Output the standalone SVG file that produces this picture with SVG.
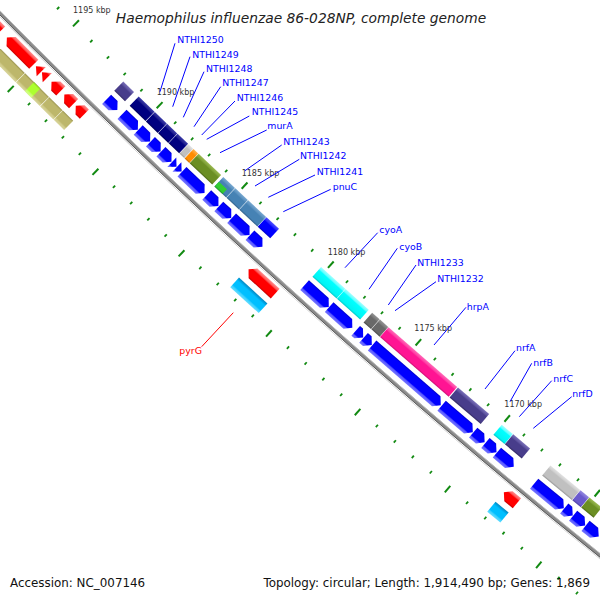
<svg xmlns="http://www.w3.org/2000/svg" xmlns:xlink="http://www.w3.org/1999/xlink" width="600" height="600" viewBox="0 0 600 600">
<style>
text{font-family:"DejaVu Sans","Liberation Sans",sans-serif}
.lab{font-size:9.4px;fill:#0000ff}
.labr{font-size:9.4px;fill:#ff0000}
.kbp{font-size:8px;fill:#333}
.title{font-size:13.8px;font-style:italic;fill:#222}
.foot{font-size:11.9px;fill:#111}
.cl{stroke:#0000ff;stroke-width:1;fill:none}
.clr{stroke:#ff0000;stroke-width:1;fill:none}
.tk{fill:#128a12}
.bl{fill:url(#gCb)}.rd{fill:url(#gAr)}
.nv{fill:url(#dNv)}.dsb{fill:url(#dDsb)}.sv{fill:url(#dSv)}.or{fill:url(#dOr)}.ol{fill:url(#dOl)}
.lg{fill:url(#dLg)}.sb{fill:url(#dSb)}.bx{fill:url(#dBl)}.cy{fill:url(#dCy)}.dg{fill:url(#dDg)}.dp{fill:url(#dDp)}
.slb{fill:url(#dSlb)}.tn{fill:url(#bTn)}.gy{fill:url(#bGy)}.dsk{fill:url(#bDsk)}
</style>
<defs>
<rect id="to" x="-0.9" y="7131" width="1.8" height="3.2"/>
<rect id="toM" x="-1" y="7126.5" width="2" height="8.5"/>
<rect id="ti" x="-0.9" y="7219.5" width="1.8" height="3.2"/>
<rect id="tiM" x="-1" y="7219" width="2" height="8.5"/>
<linearGradient id="gCb" gradientUnits="userSpaceOnUse" x1="0" y1="7157" x2="0" y2="7170"><stop offset="0" stop-color="#0000c8"/><stop offset=".12" stop-color="#0000ff"/><stop offset=".72" stop-color="#0000ff"/><stop offset=".82" stop-color="#5a5aff"/><stop offset="1" stop-color="#7474ff"/></linearGradient>
<linearGradient id="gAr" gradientUnits="userSpaceOnUse" x1="0" y1="7183" x2="0" y2="7196"><stop offset="0" stop-color="#ff8c8c"/><stop offset=".18" stop-color="#ff5c5c"/><stop offset=".3" stop-color="#ff0000"/><stop offset=".86" stop-color="#ff0000"/><stop offset="1" stop-color="#c40000"/></linearGradient>
<linearGradient id="dNv" gradientUnits="userSpaceOnUse" x1="0" y1="7139" x2="0" y2="7152"><stop offset="0" stop-color="#3a3aa8"/><stop offset=".2" stop-color="#20208f"/><stop offset=".3" stop-color="#000080"/><stop offset=".86" stop-color="#000080"/><stop offset="1" stop-color="#000058"/></linearGradient>
<linearGradient id="dDsb" gradientUnits="userSpaceOnUse" x1="0" y1="7139" x2="0" y2="7152"><stop offset="0" stop-color="#7a70b8"/><stop offset=".2" stop-color="#5e54a0"/><stop offset=".3" stop-color="#483d8b"/><stop offset=".86" stop-color="#483d8b"/><stop offset="1" stop-color="#322a62"/></linearGradient>
<linearGradient id="dSv" gradientUnits="userSpaceOnUse" x1="0" y1="7139" x2="0" y2="7152"><stop offset="0" stop-color="#e2e2e2"/><stop offset=".2" stop-color="#d0d0d0"/><stop offset=".3" stop-color="#c0c0c0"/><stop offset=".86" stop-color="#c0c0c0"/><stop offset="1" stop-color="#969696"/></linearGradient>
<linearGradient id="dOr" gradientUnits="userSpaceOnUse" x1="0" y1="7139" x2="0" y2="7152"><stop offset="0" stop-color="#ffb450"/><stop offset=".2" stop-color="#ff9c20"/><stop offset=".3" stop-color="#ff8c00"/><stop offset=".86" stop-color="#ff8c00"/><stop offset="1" stop-color="#cc7000"/></linearGradient>
<linearGradient id="dOl" gradientUnits="userSpaceOnUse" x1="0" y1="7139" x2="0" y2="7152"><stop offset="0" stop-color="#9ab850"/><stop offset=".2" stop-color="#80a238"/><stop offset=".3" stop-color="#6b8e23"/><stop offset=".86" stop-color="#6b8e23"/><stop offset="1" stop-color="#4c6618"/></linearGradient>
<linearGradient id="dLg" gradientUnits="userSpaceOnUse" x1="0" y1="7139" x2="0" y2="7152"><stop offset="0" stop-color="#70e870"/><stop offset=".2" stop-color="#50d850"/><stop offset=".3" stop-color="#32cd32"/><stop offset=".86" stop-color="#32cd32"/><stop offset="1" stop-color="#22a022"/></linearGradient>
<linearGradient id="dSb" gradientUnits="userSpaceOnUse" x1="0" y1="7139" x2="0" y2="7152"><stop offset="0" stop-color="#78a8d0"/><stop offset=".2" stop-color="#5c92c0"/><stop offset=".3" stop-color="#4682b4"/><stop offset=".86" stop-color="#4682b4"/><stop offset="1" stop-color="#30608a"/></linearGradient>
<linearGradient id="dBl" gradientUnits="userSpaceOnUse" x1="0" y1="7139" x2="0" y2="7152"><stop offset="0" stop-color="#5050ff"/><stop offset=".2" stop-color="#2828ff"/><stop offset=".3" stop-color="#0000ff"/><stop offset=".86" stop-color="#0000ff"/><stop offset="1" stop-color="#0000c0"/></linearGradient>
<linearGradient id="dCy" gradientUnits="userSpaceOnUse" x1="0" y1="7139" x2="0" y2="7152"><stop offset="0" stop-color="#a0ffff"/><stop offset=".2" stop-color="#60ffff"/><stop offset=".3" stop-color="#00ffff"/><stop offset=".86" stop-color="#00f4f4"/><stop offset="1" stop-color="#00c8c8"/></linearGradient>
<linearGradient id="dDg" gradientUnits="userSpaceOnUse" x1="0" y1="7139" x2="0" y2="7152"><stop offset="0" stop-color="#939393"/><stop offset=".2" stop-color="#7c7c7c"/><stop offset=".3" stop-color="#696969"/><stop offset=".86" stop-color="#696969"/><stop offset="1" stop-color="#4a4a4a"/></linearGradient>
<linearGradient id="dDp" gradientUnits="userSpaceOnUse" x1="0" y1="7139" x2="0" y2="7152"><stop offset="0" stop-color="#ff6ab8"/><stop offset=".2" stop-color="#ff40a4"/><stop offset=".3" stop-color="#ff1493"/><stop offset=".86" stop-color="#ff1493"/><stop offset="1" stop-color="#c80f72"/></linearGradient>
<linearGradient id="dSlb" gradientUnits="userSpaceOnUse" x1="0" y1="7139" x2="0" y2="7152"><stop offset="0" stop-color="#958ae0"/><stop offset=".2" stop-color="#7e70d6"/><stop offset=".3" stop-color="#6a5acd"/><stop offset=".86" stop-color="#6a5acd"/><stop offset="1" stop-color="#4c40a0"/></linearGradient>
<linearGradient id="bTn" gradientUnits="userSpaceOnUse" x1="0" y1="7202" x2="0" y2="7215"><stop offset="0" stop-color="#99934f"/><stop offset=".14" stop-color="#bdb76b"/><stop offset=".72" stop-color="#bdb76b"/><stop offset=".84" stop-color="#d0cb8a"/><stop offset="1" stop-color="#d8d49a"/></linearGradient>
<linearGradient id="bGy" gradientUnits="userSpaceOnUse" x1="0" y1="7202" x2="0" y2="7215"><stop offset="0" stop-color="#88cc20"/><stop offset=".14" stop-color="#adff2f"/><stop offset=".72" stop-color="#adff2f"/><stop offset=".84" stop-color="#c8ff70"/><stop offset="1" stop-color="#d4ff88"/></linearGradient>
<linearGradient id="bDsk" gradientUnits="userSpaceOnUse" x1="0" y1="7202" x2="0" y2="7215"><stop offset="0" stop-color="#0088c0"/><stop offset=".16" stop-color="#00a8e8"/><stop offset=".26" stop-color="#00bfff"/><stop offset=".72" stop-color="#00bfff"/><stop offset=".84" stop-color="#40d2ff"/><stop offset="1" stop-color="#60dcff"/></linearGradient>
</defs>
<rect width="600" height="600" fill="#fff"/>
<text class="title" x="301" y="22.5" text-anchor="middle">Haemophilus influenzae 86-028NP, complete genome</text>

<g id="backbone" transform="translate(5105 -5032)" fill="none">
<circle r="7180.2" stroke="#d4d4d4" stroke-width="1"/>
<circle r="7177.3" stroke="#8a8a8a" stroke-width="3.4"/>
<circle r="7175.9" stroke="#bdbdbd" stroke-width="0.9"/>
<circle r="7178.8" stroke="#5c5c5c" stroke-width="1"/>
</g>

<g id="ruler-outer" class="tk" transform="translate(5105 -5032)">
<use xlink:href="#to" transform="rotate(45.0385)"/>
<use xlink:href="#toM" transform="rotate(44.8505)"/>
<use xlink:href="#to" transform="rotate(44.6625)"/>
<use xlink:href="#to" transform="rotate(44.4744)"/>
<use xlink:href="#to" transform="rotate(44.2864)"/>
<use xlink:href="#to" transform="rotate(44.0983)"/>
<use xlink:href="#toM" transform="rotate(43.9103)"/>
<use xlink:href="#to" transform="rotate(43.7223)"/>
<use xlink:href="#to" transform="rotate(43.5342)"/>
<use xlink:href="#to" transform="rotate(43.3462)"/>
<use xlink:href="#to" transform="rotate(43.1581)"/>
<use xlink:href="#toM" transform="rotate(42.9701)"/>
<use xlink:href="#to" transform="rotate(42.7821)"/>
<use xlink:href="#to" transform="rotate(42.5940)"/>
<use xlink:href="#to" transform="rotate(42.4060)"/>
<use xlink:href="#to" transform="rotate(42.2179)"/>
<use xlink:href="#toM" transform="rotate(42.0299)"/>
<use xlink:href="#to" transform="rotate(41.8419)"/>
<use xlink:href="#to" transform="rotate(41.6538)"/>
<use xlink:href="#to" transform="rotate(41.4658)"/>
<use xlink:href="#to" transform="rotate(41.2777)"/>
<use xlink:href="#toM" transform="rotate(41.0897)"/>
<use xlink:href="#to" transform="rotate(40.9017)"/>
<use xlink:href="#to" transform="rotate(40.7136)"/>
<use xlink:href="#to" transform="rotate(40.5256)"/>
<use xlink:href="#to" transform="rotate(40.3375)"/>
<use xlink:href="#toM" transform="rotate(40.1495)"/>
<use xlink:href="#to" transform="rotate(39.9615)"/>
<use xlink:href="#to" transform="rotate(39.7734)"/>
<use xlink:href="#to" transform="rotate(39.5854)"/>
<use xlink:href="#to" transform="rotate(39.3973)"/>
<use xlink:href="#toM" transform="rotate(39.2093)"/>
</g>
<g id="ruler-inner" class="tk" transform="translate(5105 -5032)">
<use xlink:href="#tiM" transform="rotate(44.8505)"/>
<use xlink:href="#ti" transform="rotate(44.6625)"/>
<use xlink:href="#ti" transform="rotate(44.4744)"/>
<use xlink:href="#ti" transform="rotate(44.2864)"/>
<use xlink:href="#ti" transform="rotate(44.0983)"/>
<use xlink:href="#tiM" transform="rotate(43.9103)"/>
<use xlink:href="#ti" transform="rotate(43.7223)"/>
<use xlink:href="#ti" transform="rotate(43.5342)"/>
<use xlink:href="#ti" transform="rotate(43.3462)"/>
<use xlink:href="#ti" transform="rotate(43.1581)"/>
<use xlink:href="#tiM" transform="rotate(42.9701)"/>
<use xlink:href="#ti" transform="rotate(42.7821)"/>
<use xlink:href="#ti" transform="rotate(42.5940)"/>
<use xlink:href="#ti" transform="rotate(42.4060)"/>
<use xlink:href="#ti" transform="rotate(42.2179)"/>
<use xlink:href="#tiM" transform="rotate(42.0299)"/>
<use xlink:href="#ti" transform="rotate(41.8419)"/>
<use xlink:href="#ti" transform="rotate(41.6538)"/>
<use xlink:href="#ti" transform="rotate(41.4658)"/>
<use xlink:href="#ti" transform="rotate(41.2777)"/>
<use xlink:href="#tiM" transform="rotate(41.0897)"/>
<use xlink:href="#ti" transform="rotate(40.9017)"/>
<use xlink:href="#ti" transform="rotate(40.7136)"/>
<use xlink:href="#ti" transform="rotate(40.5256)"/>
<use xlink:href="#ti" transform="rotate(40.3375)"/>
<use xlink:href="#tiM" transform="rotate(40.1495)"/>
<use xlink:href="#ti" transform="rotate(39.9615)"/>
<use xlink:href="#ti" transform="rotate(39.7734)"/>
<use xlink:href="#ti" transform="rotate(39.5854)"/>
<use xlink:href="#ti" transform="rotate(39.3973)"/>
<use xlink:href="#tiM" transform="rotate(39.2093)"/>
<use xlink:href="#ti" transform="rotate(39.0213)"/>
<use xlink:href="#ti" transform="rotate(38.8332)"/>
</g>
<g id="ruler-labels" class="kbp">
<text x="73" y="13.3">1195 kbp</text>
<text x="156.7" y="95">1190 kbp</text>
<text x="241.7" y="175.5">1185 kbp</text>
<text x="327.7" y="255">1180 kbp</text>
<text x="414.3" y="330.5">1175 kbp</text>
<text x="504.3" y="406.5">1170 kbp</text>
</g>

<g id="features" transform="translate(5105 -5032)">
<!-- reverse strand: blue arrows (track C) + COG boxes (track D) -->
<g id="g01"><path class="bl" transform="rotate(44.1877)" d="M-7.5 7157H1.5L7.5 7163.5L1.5 7170H-7.5Z"/><path class="dsb" transform="rotate(44.1919)" d="M-7.5 7139H7.5V7152H-7.5Z"/></g>
<g id="NTHI1250"><path class="bl" transform="rotate(43.9877)" d="M-11 7157H5L11 7163.5L5 7170H-11Z"/><path class="nv" transform="rotate(43.9914)" d="M-11 7139H11V7152H-11Z"/></g>
<g id="NTHI1249"><path class="bl" transform="rotate(43.8297)" d="M-8.25 7157H2.25L8.25 7163.5L2.25 7170H-8.25Z"/><path class="nv" transform="rotate(43.8331)" d="M-8.25 7139H8.25V7152H-8.25Z"/></g>
<g id="NTHI1248"><path class="bl" transform="rotate(43.7038)" d="M-7 7157H1L7 7163.5L1 7170H-7Z"/><path class="nv" transform="rotate(43.7068)" d="M-7 7139H7V7152H-7Z"/></g>
<g id="NTHI1247"><path class="bl" transform="rotate(43.5858)" d="M-7.25 7157H1.25L7.25 7163.5L1.25 7170H-7.25Z"/><path class="nv" transform="rotate(43.5885)" d="M-7.25 7139H7.25V7152H-7.25Z"/></g>
<g id="NTHI1246"><path class="bl" transform="rotate(43.4978)" d="M-3.25 7157L3.25 7163.5L-3.25 7170Z"/><path class="sv" transform="rotate(43.5003)" d="M-3.25 7139H3.25V7152H-3.25Z"/></g>
<g id="NTHI1245"><path class="bl" transform="rotate(43.4418)" d="M-3.25 7157L3.25 7163.5L-3.25 7170Z"/><path class="or" transform="rotate(43.4442)" d="M-3.25 7139H3.25V7152H-3.25Z"/></g>
<g id="murA"><path class="bl" transform="rotate(43.2878)" d="M-15.5 7157H9.5L15.5 7163.5L9.5 7170H-15.5Z"/><path class="ol" transform="rotate(43.2898)" d="M-15.5 7139H15.5V7152H-15.5Z"/></g>
<g id="NTHI1243"><path class="bl" transform="rotate(43.0759)" d="M-8 7157H2L8 7163.5L2 7170H-8Z"/><g transform="rotate(43.0773)"><path class="sb" d="M-8 7139H8V7152H-8Z"/><path class="lg" d="M-8 7145.5H3V7152H-8Z"/></g></g>
<g id="NTHI1242"><path class="bl" transform="rotate(42.9399)" d="M-8.5 7157H2.5L8.5 7163.5L2.5 7170H-8.5Z"/><path class="sb" transform="rotate(42.9410)" d="M-8.5 7139H8.5V7152H-8.5Z"/></g>
<g id="NTHI1241"><path class="bl" transform="rotate(42.7699)" d="M-12.25 7157H6.25L12.25 7163.5L6.25 7170H-12.25Z"/><path class="sb" transform="rotate(42.7706)" d="M-12.25 7139H12.25V7152H-12.25Z"/></g>
<g id="pnuC"><path class="bl" transform="rotate(42.6000)" d="M-8.5 7157H2.5L8.5 7163.5L2.5 7170H-8.5Z"/><path class="bx" transform="rotate(42.6002)" d="M-8.5 7139H8.5V7152H-8.5Z"/></g>
<g id="cyoA"><path class="bl" transform="rotate(41.9461)" d="M-16.25 7157H10.25L16.25 7163.5L10.25 7170H-16.25Z"/><path class="cy" transform="rotate(41.9447)" d="M-16.25 7139H16.25V7152H-16.25Z"/></g>
<g id="cyoB"><path class="bl" transform="rotate(41.6882)" d="M-15.5 7157H9.5L15.5 7163.5L9.5 7170H-15.5Z"/><path class="cy" transform="rotate(41.6861)" d="M-15.5 7139H15.5V7152H-15.5Z"/></g>
<g id="NTHI1233"><path class="bl" transform="rotate(41.4882)" d="M-5 7157H-1L5 7163.5L-1 7170H-5Z"/><path class="dg" transform="rotate(41.4857)" d="M-5 7139H5V7152H-5Z"/></g>
<g id="NTHI1232"><path class="bl" transform="rotate(41.4002)" d="M-5.5 7157H-0.5L5.5 7163.5L-0.5 7170H-5.5Z"/><path class="dg" transform="rotate(41.3975)" d="M-5.5 7139H5.5V7152H-5.5Z"/></g>
<g id="hrpA"><path class="bl" transform="rotate(40.9883)" d="M-45.5 7157H39.5L45.5 7163.5L39.5 7170H-45.5Z"/><path class="dp" transform="rotate(40.9845)" d="M-45.5 7139H45.5V7152H-45.5Z"/></g>
<g id="nrfA"><path class="bl" transform="rotate(40.4524)" d="M-20.5 7157H14.5L20.5 7163.5L14.5 7170H-20.5Z"/><path class="dsb" transform="rotate(40.4473)" d="M-20.5 7139H20.5V7152H-20.5Z"/></g>
<g id="nrfB"><path class="bl" transform="rotate(40.2245)" d="M-7.5 7157H1.5L7.5 7163.5L1.5 7170H-7.5Z"/></g>
<g id="nrfC"><path class="bl" transform="rotate(40.0985)" d="M-7.25 7157H1.25L7.25 7163.5L1.25 7170H-7.25Z"/><path class="cy" transform="rotate(40.0924)" d="M-7.25 7139H7.25V7152H-7.25Z"/></g>
<g id="nrfD"><path class="bl" transform="rotate(39.9485)" d="M-11 7157H5L11 7163.5L5 7170H-11Z"/><path class="dsb" transform="rotate(39.9421)" d="M-11 7139H11V7152H-11Z"/></g>
<g id="g22"><path class="bl" transform="rotate(39.4946)" d="M-19.25 7157H13.25L19.25 7163.5L13.25 7170H-19.25Z"/><path class="sv" transform="rotate(39.4870)" d="M-19.25 7139H19.25V7152H-19.25Z"/></g>
<g id="g23"><path class="bl" transform="rotate(39.2926)" d="M-5.5 7157H-0.5L5.5 7163.5L-0.5 7170H-5.5Z"/><path class="slb" transform="rotate(39.2846)" d="M-5.5 7139H5.5V7152H-5.5Z"/></g>
<g id="g24"><path class="bl" transform="rotate(39.1827)" d="M-7.75 7157H1.75L7.75 7163.5L1.75 7170H-7.75Z"/><path class="ol" transform="rotate(39.1723)" d="M-8 7139H8V7152H-8Z"/></g>
<g id="g25"><path class="bl" transform="rotate(39.0487)" d="M-8.5 7157H2.5L8.5 7163.5L2.5 7170H-8.5Z"/></g>

<!-- forward strand: red arrows (track A) + COG boxes (track B) -->
<g id="f00"><path class="rd" transform="rotate(45.3092)" d="M9.5 7183H-3.5L-9.5 7189.5L-3.5 7196H9.5Z"/><path class="tn" transform="rotate(45.1905)" d="M-41.5 7202H41.5V7215H-41.5Z"/></g>
<g id="f01"><path class="rd" transform="rotate(45.0104)" d="M19 7183H-13L-19 7189.5L-13 7196H19Z"/></g>
<g id="f02"><path class="rd" transform="rotate(44.8052)" d="M3.75 7183L-3.75 7189.5L3.75 7196Z"/><path class="rd" transform="rotate(44.7374)" d="M3.75 7183L-3.75 7189.5L3.75 7196Z"/><path class="tn" transform="rotate(44.7236)" d="M-16.75 7202H16.75V7215H-16.75Z"/><path class="gy" transform="rotate(44.7216)" d="M-4.5 7202H4.5V7215H-4.5Z"/></g>
<g id="f03"><path class="rd" transform="rotate(44.6079)" d="M6.5 7183H-0.5L-6.5 7189.5L-0.5 7196H6.5Z"/><path class="tn" transform="rotate(44.5129)" d="M-9.25 7202H9.25V7215H-9.25Z"/></g>
<g id="f04"><path class="rd" transform="rotate(44.4645)" d="M6.5 7183H-0.5L-6.5 7189.5L-0.5 7196H6.5Z"/><path class="tn" transform="rotate(44.3778)" d="M-7.25 7202H7.25V7215H-7.25Z"/></g>
<g id="f05"><path class="rd" transform="rotate(44.3409)" d="M6 7183H0L-6 7189.5L0 7196H6Z"/></g>
<g id="pyrG"><path class="rd" transform="rotate(42.3486)" d="M18 7183H-12L-18 7189.5L-12 7196H18Z"/><path class="dsk" transform="rotate(42.3510)" d="M-19.25 7202H19.25V7215H-19.25Z"/></g>
<g id="f07"><path class="rd" transform="rotate(39.7227)" d="M8.5 7183H-2.5L-8.5 7189.5L-2.5 7196H8.5Z"/><path class="dsk" transform="rotate(39.7260)" d="M-8.5 7202H8.5V7215H-8.5Z"/></g>
</g>

<g id="connectors">
<path class="cl" d="M175 43.3L160 91.7M190 56.7L172.7 106.7M204 71.7L183.3 117.3M220.7 86.7L194 126.7M235 101L201.7 135M249.3 116L206.7 139.3M266.7 130L220 152.7M281.7 145L245 170.7M299.3 159.3L255 186M315 175L268.3 197.3M330.7 189.3L283.3 211.7M377.7 232.7L345 267.7M397.3 248.3L369 289.3M416 265L388.3 305M436 281.7L395 310.7M466 307.3L434 345M515 350.7L485 389M531.7 363.3L510 401.7M551.7 380.7L519.3 416.7M571.7 396.7L533.3 428.3"/>
<path class="clr" d="M201.7 346.7L233.3 312.7"/>
</g>

<g id="labels">
<text class="lab" x="177.3" y="42.7">NTHI1250</text>
<text class="lab" x="192.3" y="57.7">NTHI1249</text>
<text class="lab" x="206" y="71.7">NTHI1248</text>
<text class="lab" x="222.3" y="86">NTHI1247</text>
<text class="lab" x="236.7" y="101">NTHI1246</text>
<text class="lab" x="251.7" y="115.3">NTHI1245</text>
<text class="lab" x="267.3" y="129.3">murA</text>
<text class="lab" x="283.3" y="145">NTHI1243</text>
<text class="lab" x="300" y="159.3">NTHI1242</text>
<text class="lab" x="316.7" y="175">NTHI1241</text>
<text class="lab" x="332.7" y="190">pnuC</text>
<text class="lab" x="379.3" y="232.7">cyoA</text>
<text class="lab" x="399.3" y="250">cyoB</text>
<text class="lab" x="417.3" y="265.7">NTHI1233</text>
<text class="lab" x="437.3" y="282">NTHI1232</text>
<text class="lab" x="466.7" y="310">hrpA</text>
<text class="lab" x="516" y="351">nrfA</text>
<text class="lab" x="533.3" y="365.7">nrfB</text>
<text class="lab" x="553.3" y="381.7">nrfC</text>
<text class="lab" x="572.3" y="396.7">nrfD</text>
<text class="labr" x="179.3" y="353.5">pyrG</text>
</g>

<text class="foot" x="10" y="587">Accession: NC_007146</text>
<text class="foot" x="590" y="587" text-anchor="end">Topology: circular; Length: 1,914,490 bp; Genes: 1,869</text>
</svg>
